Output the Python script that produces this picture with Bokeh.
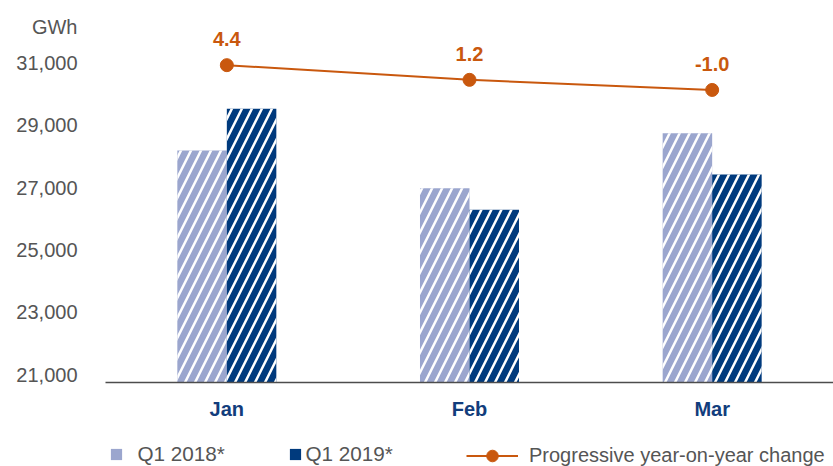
from bokeh.plotting import figure
from bokeh.layouts import column
from bokeh.models import (ColumnDataSource, FactorRange, Range1d, Legend, LegendItem,
                          NumeralTickFormatter, FixedTicker)
from bokeh.transform import dodge
from bokeh.core.properties import value
from bokeh.embed import file_html
from bokeh.resources import INLINE

# ---- data ----
months = ["Jan", "Feb", "Mar"]
q1_2018 = [28190, 26980, 28740]
q1_2019 = [29530, 26290, 27420]
yoy_change = [4.4, 1.2, -1.0]
yoy_labels = ["4.4", "1.2", "-1.0"]
y_ticks = [21000, 23000, 25000, 27000, 29000, 31000]
unit_tick = 32150
unit_label = "GWh"
series_names = ["Q1 2018*", "Q1 2019*", "Progressive year-on-year change"]

# ---- style ----
LIGHT = "#9BA6CE"
DARK = "#003A7D"
ORANGE = "#C9580E"
GRAY = "#555555"
MONTH_BLUE = "#123D7C"
FONT = "Liberation Sans"
Y_START, Y_END = 20753, 32997

src = ColumnDataSource(dict(month=months, q18=q1_2018, q19=q1_2019,
                            yoy=yoy_change, yoy_label=yoy_labels))

p = figure(x_range=FactorRange(factors=months, range_padding=0),
           y_range=Range1d(Y_START, Y_END),
           width=833, height=430, output_backend="svg", toolbar_location=None,
           min_border_left=105, min_border_right=0, min_border_top=0,
           min_border_bottom=48, outline_line_color=None)
p.extra_y_ranges = {"pct": Range1d(-64.75, 18.49)}

p.xgrid.grid_line_color = None
p.ygrid.grid_line_color = None

p.yaxis.ticker = FixedTicker(ticks=y_ticks + [unit_tick])
p.yaxis.formatter = NumeralTickFormatter(format="0,0")
p.yaxis.major_label_overrides = {unit_tick: unit_label}
p.yaxis.axis_line_color = None
p.yaxis.major_tick_line_color = None
p.yaxis.minor_tick_line_color = None
p.yaxis.major_label_standoff = 22
p.yaxis.major_label_text_font = FONT
p.yaxis.major_label_text_font_size = "20px"
p.yaxis.major_label_text_color = GRAY

p.xaxis.axis_line_color = "#4d4d4d"
p.xaxis.axis_line_width = 1.5
p.xaxis.major_tick_line_color = None
p.xaxis.minor_tick_line_color = None
p.xaxis.major_label_standoff = 9
p.xaxis.major_label_text_font = FONT
p.xaxis.major_label_text_font_size = "20px"
p.xaxis.major_label_text_font_style = "bold"
p.xaxis.major_label_text_color = MONTH_BLUE

hatch = dict(hatch_pattern="/", hatch_color="white", hatch_weight=2.5, hatch_scale=20)
p.vbar(x=dodge("month", -0.102, range=p.x_range), top="q18", bottom=Y_START,
       width=0.204, source=src, fill_color=LIGHT, line_color=None, **hatch)
p.vbar(x=dodge("month", 0.102, range=p.x_range), top="q19", bottom=Y_START,
       width=0.204, source=src, fill_color=DARK, line_color=None, **hatch)

p.line(x="month", y="yoy", source=src, y_range_name="pct",
       line_color=ORANGE, line_width=2)
p.scatter(x="month", y="yoy", source=src, y_range_name="pct",
          size=13, fill_color=ORANGE, line_color=ORANGE)
p.text(x="month", y="yoy", text="yoy_label", source=src, y_range_name="pct",
       text_align="center", text_baseline="middle", y_offset=-26,
       text_font=value(FONT), text_font_size="20px", text_font_style="bold",
       text_color=ORANGE)

# ---- legend strip ----
lg = figure(width=833, height=36, x_range=Range1d(0, 1), y_range=Range1d(0, 1),
            output_backend="svg", toolbar_location=None, min_border_left=105,
            min_border_right=0, min_border_top=0, min_border_bottom=0,
            outline_line_color=None)
lg.axis.visible = False
lg.grid.grid_line_color = None

# zero-size / off-screen proxies so the legend swatches are solid (no hatch)
px18 = lg.vbar(x=[-5], top=[-5], bottom=[-5], width=0.1, fill_color=LIGHT, line_color=None)
px19 = lg.vbar(x=[-5], top=[-5], bottom=[-5], width=0.1, fill_color=DARK, line_color=None)
pxl = lg.line(x=[-5, -5], y=[-5, -5], line_color=ORANGE, line_width=2)
pxd = lg.scatter(x=[-5], y=[-5], size=12, fill_color=ORANGE, line_color=ORANGE)

def make_legend(items, loc, gw, gh, standoff, fs="20.7px"):
    leg = Legend(items=items, location=loc, orientation="horizontal",
                 glyph_width=gw, glyph_height=gh, label_standoff=standoff,
                 label_text_font=FONT, label_text_font_size=fs,
                 label_text_color=GRAY, padding=0, margin=0, spacing=0,
                 border_line_color=None, background_fill_alpha=0)
    lg.add_layout(leg)

make_legend([LegendItem(label=series_names[0], renderers=[px18])], (3.5, 0), 14, 14, 15)
make_legend([LegendItem(label=series_names[1], renderers=[px19])], (182.5, 0), 14, 14, 4)
make_legend([LegendItem(label=series_names[2], renderers=[pxl, pxd])], (361, -4), 52, 29, 11, "20px")

open("out.html", "w").write(file_html(column(p, lg), INLINE))
